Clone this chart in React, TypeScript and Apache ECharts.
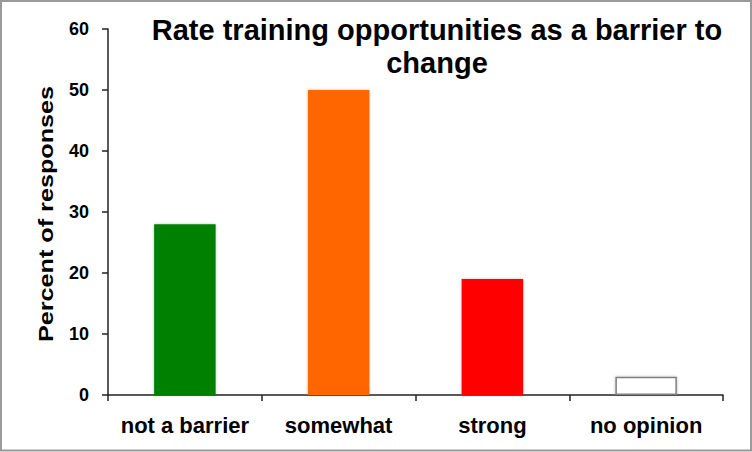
import React, { useEffect, useRef } from "react";
import * as echarts from "echarts";

const categories = ["not a barrier", "somewhat", "strong", "no opinion"];
const percentValues = [28, 50, 19, 3];
const yTicks = { min: 0, max: 60, interval: 10 };
const titleText = "Rate training opportunities as a barrier to\nchange";
const yAxisTitle = "Percent of responses";

const barColors = ["#008000", "#FF6600", "#FF0000", "#FFFFFF"];
const FONT = '"Liberation Sans", Arial, Helvetica, sans-serif';

export default function App() {
  const ref = useRef<HTMLDivElement>(null);
  useEffect(() => {
    if (!ref.current) return;
    const chart = echarts.init(ref.current, undefined, { renderer: "svg" });
    chart.setOption({
      animation: false,
      backgroundColor: "#ffffff",
      grid: { left: 108, right: 29, top: 29, bottom: 57, containLabel: false },
      xAxis: {
        type: "category",
        data: categories,
        boundaryGap: true,
        axisLine: { lineStyle: { color: "#222", width: 1.5 } },
        axisTick: { show: true, interval: 0, length: 6, inside: false, lineStyle: { color: "#222", width: 1.5 } },
        axisLabel: {
          interval: 0,
          color: "#000",
          fontFamily: FONT,
          fontWeight: "bold",
          fontSize: 22,
          margin: 19,
        },
        splitLine: { show: false },
      },
      yAxis: {
        type: "value",
        min: yTicks.min,
        max: yTicks.max,
        interval: yTicks.interval,
        axisLine: { show: true, lineStyle: { color: "#222", width: 1.5 } },
        axisTick: { show: true, length: 6, inside: false, lineStyle: { color: "#222", width: 1.5 } },
        axisLabel: {
          color: "#000",
          fontFamily: FONT,
          fontWeight: "bold",
          fontSize: 18,
          margin: 19,
        },
        splitLine: { show: false },
      },
      series: [
        {
          type: "bar",
          barWidth: "40%",
          data: percentValues.map((v, i) => ({
            value: v,
            itemStyle: {
              color: barColors[i],
              borderColor: i === 3 ? "#808080" : barColors[i],
              borderWidth: i === 3 ? 1.5 : 0,
              shadowColor: "rgba(0,0,0,0.25)",
              shadowBlur: 3,
            },
          })),
        },
      ],
      graphic: [
        {
          type: "rect",
          silent: true,
          z: 100,
          shape: { x: 1, y: 1, width: 750, height: 449.5 },
          style: { fill: "none", stroke: "#9a9a9a", lineWidth: 2 },
        },
        {
          type: "text",
          x: 437,
          y: 14,
          style: {
            text: titleText,
            font: `bold 29px ${FONT}`,
            fill: "#000",
            align: "center",
            verticalAlign: "top",
            lineHeight: 32.5,
          },
        },
        {
          type: "text",
          x: 46.4,
          y: 214,
          rotation: Math.PI / 2,
          scaleX: 1.26,
          style: {
            text: yAxisTitle,
            font: `bold 20px ${FONT}`,
            fill: "#000",
            align: "center",
            verticalAlign: "middle",
          },
        },
      ],
    });
    return () => chart.dispose();
  }, []);
  return (
    <div
      ref={ref}
      style={{ position: "fixed", left: 0, top: 0, width: 752, height: 452 }}
    />
  );
}
